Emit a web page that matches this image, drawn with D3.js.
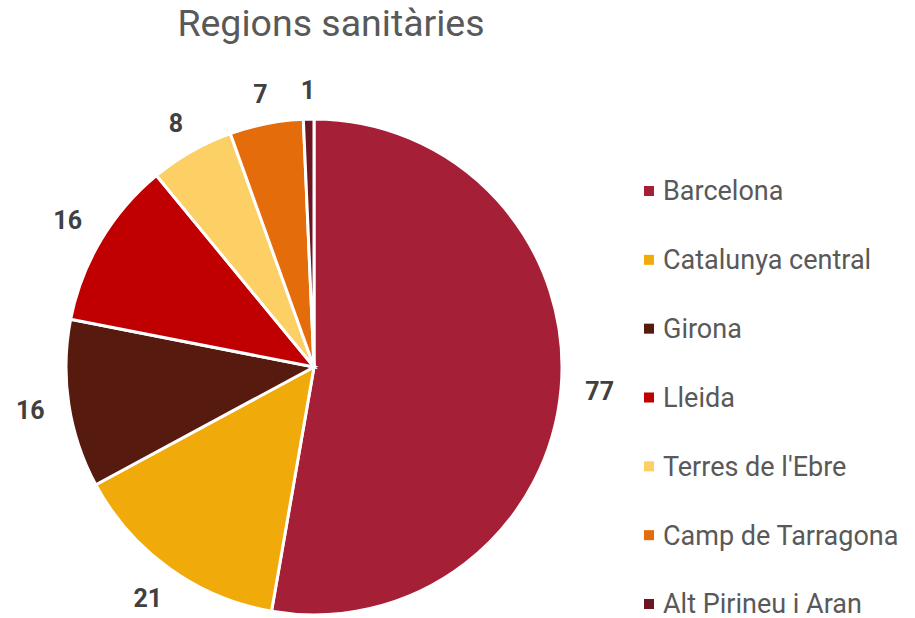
<!DOCTYPE html>
<html>
<head>
<meta charset="utf-8">
<script src="https://cdn.jsdelivr.net/npm/d3@7"></script>
<style>
  body { margin: 0; background: #fff; }
  svg text { font-family: Roboto, sans-serif; }
</style>
</head>
<body>
<div id="chart"></div>
<script>
const regions = ['Barcelona', 'Catalunya central', 'Girona', 'Lleida', "Terres de l'Ebre", 'Camp de Tarragona', 'Alt Pirineu i Aran'];
const counts = [77, 21, 16, 16, 8, 7, 1];
const colors = ['#a51f36', '#f0aa0a', '#561a0f', '#c00000', '#fcd064', '#e46c0a', '#6b1622'];

const width = 915, height = 618;
const cx = 314, cy = 367, radius = 248;

const svg = d3.select('#chart')
  .append('svg')
  .attr('width', width)
  .attr('height', height);

svg.append('text')
  .attr('x', 331)
  .attr('y', 36)
  .attr('text-anchor', 'middle')
  .attr('font-size', 37.5)
  .attr('fill', '#595959')
  .text('Regions sanitàries');

const data = regions.map((r, i) => ({ name: r, value: counts[i], color: colors[i] }));

const pie = d3.pie().sort(null).value(d => d.value);
const arc = d3.arc().innerRadius(0).outerRadius(radius);

const g = svg.append('g').attr('transform', `translate(${cx},${cy})`);
const arcs = pie(data);

g.selectAll('path.slice')
  .data(arcs)
  .enter()
  .append('path')
  .attr('class', 'slice')
  .attr('d', arc)
  .attr('fill', d => d.data.color)
  .attr('stroke', '#fff')
  .attr('stroke-width', 3);

// value labels: the nearest edge of the label box sits at a fixed gap outside the pie
const labels = g.selectAll('text.lbl')
  .data(arcs)
  .enter()
  .append('text')
  .attr('class', 'lbl')
  .attr('text-anchor', 'middle')
  .attr('dy', '0.35em')
  .attr('font-size', 25)
  .attr('font-weight', 'bold')
  .attr('fill', '#404040')
  .text(d => d.data.value);

labels.attr('transform', function (d) {
  const box = this.getBBox();
  const a = (d.startAngle + d.endAngle) / 2;
  const ux = Math.sin(a), uy = -Math.cos(a);
  const dist = 272 + (box.width / 2) * Math.abs(ux) + 5 * Math.abs(uy);
  return `translate(${dist * ux},${dist * uy})`;
});

// legend
const legendY = d3.scalePoint().domain(regions).range([191, 604]);
const legend = svg.append('g');
const item = legend.selectAll('g')
  .data(data)
  .enter()
  .append('g')
  .attr('transform', d => `translate(644,${legendY(d.name)})`);

item.append('rect')
  .attr('x', 0)
  .attr('y', -5)
  .attr('width', 10)
  .attr('height', 10)
  .attr('fill', d => d.color);

item.append('text')
  .attr('x', 19)
  .attr('dy', '0.35em')
  .attr('font-size', 27)
  .attr('fill', '#595959')
  .text(d => d.name);
</script>
</body>
</html>
